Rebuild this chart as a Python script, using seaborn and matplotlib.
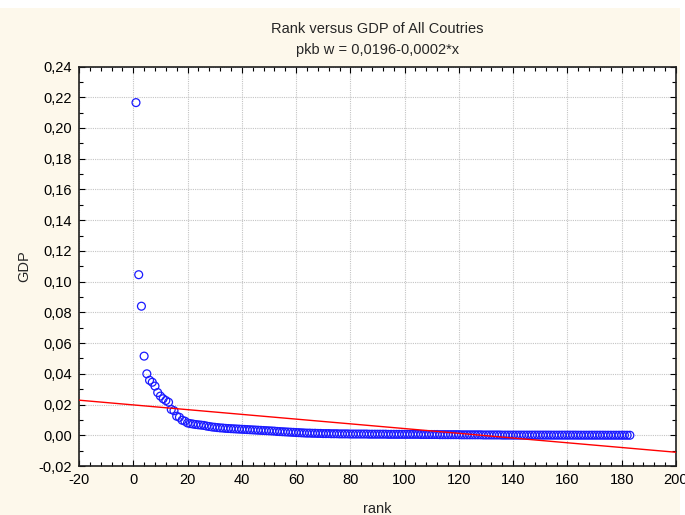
import numpy as np
import pandas as pd
import matplotlib
matplotlib.use('Agg')
import matplotlib.pyplot as plt
import seaborn as sns
from matplotlib.ticker import MultipleLocator, FuncFormatter
from matplotlib.patches import Rectangle

# GDP share of each country, ordered by rank
gdp = [
    0.2165, 0.1045, 0.0840, 0.0515, 0.0400, 0.0358, 0.0345, 0.0320, 0.0278, 0.0255,
    0.0238, 0.0226, 0.0215, 0.0168, 0.0160, 0.0124, 0.0117, 0.0098, 0.0092, 0.0080,
    0.0076, 0.0073, 0.0070, 0.0068, 0.0066, 0.0064, 0.0060, 0.0057, 0.0054, 0.0052,
    0.0050, 0.0048, 0.0047, 0.0045, 0.0044, 0.0043, 0.0042, 0.0041, 0.0040, 0.0039,
    0.0038, 0.0037, 0.0036, 0.0035, 0.0034, 0.0033, 0.0032, 0.0031, 0.0030, 0.0029,
    0.0028, 0.0027, 0.0025, 0.0024, 0.0023, 0.0022, 0.0021, 0.0020, 0.0019, 0.0018,
    0.0017, 0.0016, 0.0015, 0.0014, 0.0014, 0.0013, 0.0013, 0.0012, 0.0012, 0.0011,
    0.0011, 0.0011, 0.0010, 0.0010, 0.0010, 0.0009, 0.0009, 0.0009, 0.0009, 0.0008,
    0.0008, 0.0008, 0.0008, 0.0008, 0.0008, 0.0008, 0.0007, 0.0007, 0.0007, 0.0007,
    0.0007, 0.0007, 0.0007, 0.0006, 0.0006, 0.0006, 0.0006, 0.0006, 0.0006, 0.0006,
    0.0006, 0.0006, 0.0006, 0.0006, 0.0006, 0.0005, 0.0005, 0.0005, 0.0005, 0.0005,
    0.0005, 0.0005, 0.0004, 0.0004, 0.0004, 0.0004, 0.0004, 0.0004, 0.0004, 0.0004,
    0.0003, 0.0003, 0.0003, 0.0003, 0.0003, 0.0003, 0.0003, 0.0003, 0.0002, 0.0002,
    0.0002, 0.0002, 0.0002, 0.0002, 0.0002, 0.0001, 0.0001, 0.0001, 0.0001, 0.0001,
    0.0001, 0.0001, 0.0001, 0.0001, 0.0001, 0.0001, 0.0001, 0.0001, 0.0001, 0.0001,
    0.0001, 0.0001, 0.0001, 0.00008, 0.00008, 0.00008, 0.00008, 0.00008, 0.00008, 0.00008,
    0.00008, 0.00008, 0.00008, 0.00005, 0.00005, 0.00005, 0.00005, 0.00005, 0.00005, 0.00005,
    0.00005, 0.00005, 0.00005, 0.00003, 0.00003, 0.00003, 0.00003, 0.00003, 0.00003, 0.00003,
    0.00003, 0.00002, 0.00001,
]
rank = list(range(1, len(gdp) + 1))

title = "Rank versus GDP of All Coutries"
subtitle = "pkb w = 0,0196-0,0002*x"

df = pd.DataFrame({'rank': rank, 'GDP': gdp})

sns.set_theme(style='ticks')
plt.rcParams['font.family'] = ['Liberation Sans', 'DejaVu Sans']
plt.rcParams['font.size'] = 10.5

fig = plt.figure(figsize=(6.85, 5.15), dpi=100)
fig.patch.set_facecolor('white')
fig.patches.append(Rectangle((0, 0), 680 / 685, 507 / 515, transform=fig.transFigure,
                             facecolor='#fdf8eb', edgecolor='none', zorder=-10))
ax = fig.add_axes([79 / 685, 1 - 466 / 515, 597 / 685, 399.5 / 515])
ax.set_facecolor('white')

ax.set_xlim(-20, 200)
ax.set_ylim(-0.02, 0.24)

# Points
sns.scatterplot(data=df, x='rank', y='GDP', ax=ax, marker='o', s=32,
                facecolor='none', edgecolor='#1a1aff', linewidth=0.9, zorder=3)

# Linear fit across the whole x range
sns.regplot(data=df, x='rank', y='GDP', ax=ax, scatter=False, ci=None,
            truncate=False, color='red', line_kws={'linewidth': 1.0, 'zorder': 4})

ax.set_xlim(-20, 200)
ax.set_ylim(-0.02, 0.24)

# Ticks
ax.xaxis.set_major_locator(MultipleLocator(20))
ax.xaxis.set_minor_locator(MultipleLocator(4))
ax.yaxis.set_major_locator(MultipleLocator(0.02))
ax.yaxis.set_minor_locator(MultipleLocator(0.01))
ax.yaxis.set_major_formatter(FuncFormatter(lambda v, p: f"{v:.2f}".replace('.', ',').replace('-0,00', '0,00')))
ax.xaxis.set_major_formatter(FuncFormatter(lambda v, p: f"{v:.0f}"))
ax.tick_params(which='both', direction='in', top=True, right=True, colors='black',
               labelcolor='black', labelsize=10.5)
ax.tick_params(which='major', length=4, width=0.8, pad=5)
ax.tick_params(which='minor', length=3, width=0.8)

ax.grid(True, which='major', color='#c4c4c4', linestyle=(0, (1, 1)), linewidth=0.8)
for s in ax.spines.values():
    s.set_visible(True)
    s.set_color('#202020')
    s.set_linewidth(1.2)

ax.set_title(title + "\n" + subtitle, fontsize=10.5, linespacing=1.6, pad=9)
ax.set_xlabel('rank', fontsize=10.5, labelpad=11)
ax.set_ylabel('GDP', fontsize=10.5, labelpad=5)

fig.savefig('out.png', dpi=100)
